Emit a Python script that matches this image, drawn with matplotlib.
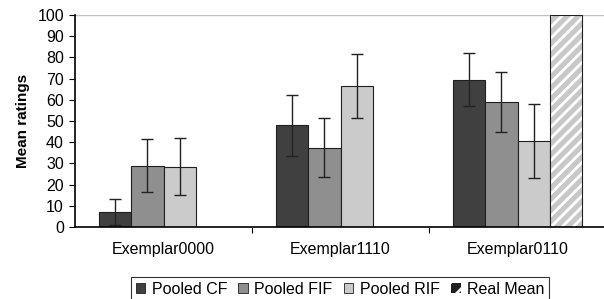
import numpy as np
import matplotlib.pyplot as plt
from matplotlib.patches import Patch

plt.rcParams['font.family'] = ['Liberation Sans', 'DejaVu Sans']
plt.rcParams['hatch.linewidth'] = 2.0

categories = ["Exemplar0000", "Exemplar1110", "Exemplar0110"]
series = ["Pooled CF", "Pooled FIF", "Pooled RIF", "Real Mean"]
cf = [7, 48, 69.5]
cf_err = [6, 14.5, 12.5]
fif = [29, 37.5, 59]
fif_err = [12.5, 14, 14]
rif = [28.5, 66.5, 40.5]
rif_err = [13.5, 15, 17.5]
real_mean = [np.nan, np.nan, 100]

colors = ["#404040", "#8f8f8f", "#cbcbcb", "#c8c8c8"]

fig = plt.figure(figsize=(6.04, 2.99), dpi=100)
ax = fig.add_axes([75 / 604, 72 / 299, 531 / 604, 212 / 299])

x = np.arange(len(categories))
w = 0.181
offsets = np.array([-1.5, -0.5, 0.5, 1.5]) * w

for vals, errs, col, off in [(cf, cf_err, colors[0], offsets[0]),
                             (fif, fif_err, colors[1], offsets[1]),
                             (rif, rif_err, colors[2], offsets[2])]:
    ax.bar(x + off, vals, w, color=col, edgecolor='#202020', linewidth=0.8, zorder=2)
    ax.errorbar(x + off, vals, yerr=errs, fmt='none', ecolor='#222222',
                elinewidth=1, capsize=4, capthick=1, zorder=3)

# hatched bar: white stripes on grey, then a black outline on top
ax.bar(x + offsets[3], real_mean, w, color=colors[3], edgecolor='white',
       linewidth=0, hatch='///', zorder=2)
ax.bar(x + offsets[3], real_mean, w, fill=False, edgecolor='#202020',
       linewidth=0.8, zorder=2.5)

ax.axhline(100, color='#c0c0c0', linewidth=1, zorder=1)

ax.set_xlim(-0.5, 2.5)
ax.set_ylim(0, 100)
ax.set_yticks(np.arange(0, 101, 10))
ax.set_xticks([0.5, 1.5])
ax.set_xticklabels([])
ax.set_xticks(x, minor=True)
ax.set_xticklabels(categories, minor=True)
ax.tick_params(axis='x', which='minor', length=0, pad=11, labelsize=11.5)
ax.tick_params(axis='x', which='major', length=4, direction='out')
ax.tick_params(axis='y', length=4, direction='out', labelsize=11.5, pad=4)
for s in ['top', 'right']:
    ax.spines[s].set_visible(False)
ax.spines['left'].set_linewidth(1.2)
ax.spines['bottom'].set_linewidth(1.2)
ax.set_ylabel("Mean ratings", fontsize=11, fontweight='bold', labelpad=5)

handles = [Patch(facecolor=colors[i], edgecolor='#202020', linewidth=0.6) for i in range(3)]
handles.append(Patch(facecolor='#202020', edgecolor='white', hatch='//', linewidth=0))
leg = fig.legend(handles, series, loc='upper center', bbox_to_anchor=(340 / 604, 1 - 277 / 299),
                 ncol=4, frameon=True, fancybox=False, edgecolor='black', fontsize=11.5,
                 handlelength=0.6, handleheight=0.6, handletextpad=0.4, columnspacing=0.7,
                 borderpad=0.3, borderaxespad=0)
leg.get_frame().set_linewidth(0.8)

fig.savefig("out.png", dpi=100)
